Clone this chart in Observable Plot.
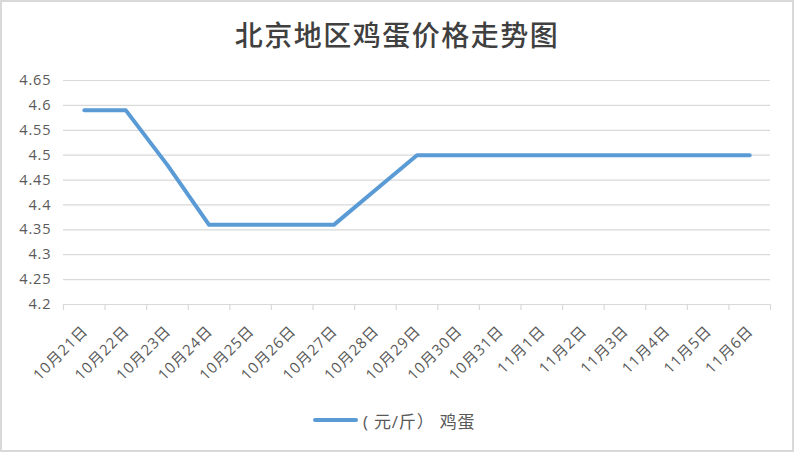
<!DOCTYPE html>
<html>
<head>
<meta charset="utf-8">
<script src="https://cdn.jsdelivr.net/npm/d3@7"></script>
<script src="https://cdn.jsdelivr.net/npm/@observablehq/plot@0.6"></script>
<style>
  html, body { margin: 0; padding: 0; background: #fff; }
  #wrap { position: relative; width: 794px; height: 452px; overflow: hidden; background: #fff;
          font-family: "Noto Sans CJK SC", "Noto Sans", sans-serif; }
  #frame { position: absolute; left: 0; top: 0; width: 794px; height: 452px; box-sizing: border-box;
           border: 2px solid #d9d9d9; pointer-events: none; }
  #title { position: absolute; left: 0; top: 14px; width: 794px; text-align: center;
           font-size: 28px; line-height: 40px; color: #404040; letter-spacing: 1.5px; font-weight: 500; }
  #chart { position: absolute; left: 0; top: 62px; }
  #legend { position: absolute; left: 313px; top: 408px; height: 24px; display: flex; align-items: center;
            font-size: 17px; color: #595959; letter-spacing: 0.8px; font-family: "Open Sans", "Noto Sans CJK SC", sans-serif; }
  #legend .sw { width: 45px; height: 4px; border-radius: 2px; background: #5b9bd5; margin-right: 5px; }
  #chart svg text { letter-spacing: 0.9px; }
</style>
</head>
<body>
<div id="wrap">
  <div id="title">北京地区鸡蛋价格走势图</div>
  <div id="chart"></div>
  <div id="legend"><span class="sw"></span><span id="legendText"></span></div>
  <div id="frame"></div>
</div>
<script>
const categories = ["10月21日","10月22日","10月23日","10月24日","10月25日","10月26日","10月27日","10月28日","10月29日","10月30日","10月31日","11月1日","11月2日","11月3日","11月4日","11月5日","11月6日"];
const prices = [4.59, 4.59, 4.48, 4.36, 4.36, 4.36, 4.36, 4.43, 4.5, 4.5, 4.5, 4.5, 4.5, 4.5, 4.5, 4.5, 4.5];
const yTicks = [4.2, 4.25, 4.3, 4.35, 4.4, 4.45, 4.5, 4.55, 4.6, 4.65];
const seriesName = "( 元/斤） 鸡蛋";

document.getElementById("legendText").textContent = seriesName;

const data = categories.map((c, i) => ({date: c, price: prices[i]}));

const W = 794, H = 330, ML = 63, MR = 24, MT = 18, MB = 88;
const step = (W - ML - MR) / categories.length;
const last = categories[categories.length - 1];

const plot = Plot.plot({
  width: W, height: H,
  marginLeft: ML, marginRight: MR, marginTop: MT, marginBottom: MB,
  style: {fontFamily: '"Open Sans", "Noto Sans CJK SC", sans-serif', fontSize: "14.5px", color: "#595959", background: "transparent"},
  x: {type: "point", domain: categories, padding: 0.5, round: false, axis: null},
  y: {domain: [4.2, 4.65], ticks: yTicks, tickSize: 0, tickPadding: 12, label: null,
      tickFormat: d => String(+d.toFixed(2))},
  marks: [
    Plot.ruleY(yTicks, {stroke: "#d9d9d9", strokeWidth: 1.2}),
    Plot.ruleX(categories, {x: d => d, y1: 4.2, y2: 4.2, insetBottom: -6, dx: -step / 2, stroke: "#d9d9d9", strokeWidth: 1.2}),
    Plot.ruleX([last], {x: d => d, y1: 4.2, y2: 4.2, insetBottom: -6, dx: step / 2, stroke: "#d9d9d9", strokeWidth: 1.2}),
    Plot.line(data, {x: "date", y: "price", stroke: "#5b9bd5", strokeWidth: 4, strokeLinecap: "round", strokeLinejoin: "round"}),
    Plot.text(categories, {x: d => d, y: 4.2, text: d => d, rotate: -45, textAnchor: "end", dy: 24, dx: 1, fontSize: 15, fill: "#595959"})
  ]
});
document.getElementById("chart").appendChild(plot);
</script>
</body>
</html>
